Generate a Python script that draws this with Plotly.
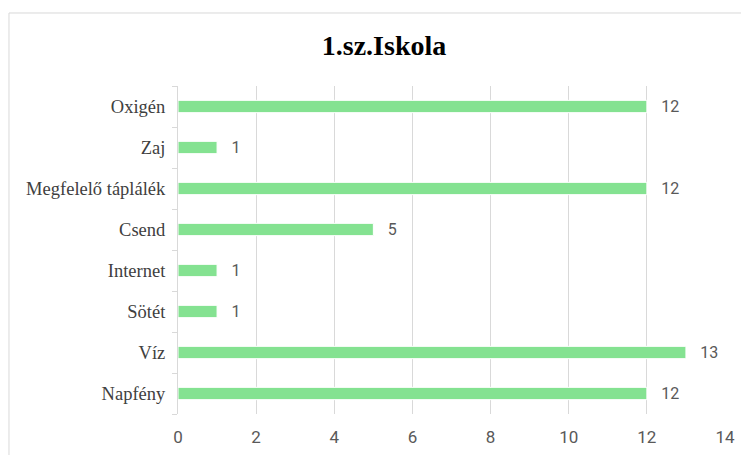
import plotly.graph_objects as go

# bottom-to-top order, as drawn on the chart
categories = ["Napfény", "Víz", "Sötét", "Internet", "Csend",
              "Megfelelő táplálék", "Zaj", "Oxigén"]
values = [12, 13, 1, 1, 5, 12, 1, 12]
x_ticks = [0, 2, 4, 6, 8, 10, 12, 14]

BAR_COLOR = "#84E291"
GRID = "#D9D9D9"
TEXT_GRAY = "#595959"
SERIF = "Liberation Serif, Times New Roman, serif"
NARROW = "Liberation Sans Narrow, Arial Narrow, Roboto, sans-serif"

# the page body has an 8px margin, so the figure is sized/offset to fit
fig = go.Figure(go.Bar(
    x=values,
    y=categories,
    orientation="h",
    width=0.3,
    marker=dict(color=BAR_COLOR, line=dict(color="white", width=1)),
    text=values,
    texttemplate="\u2002\u2009%{x}",
    textposition="outside",
    constraintext="none",
    textfont=dict(family=NARROW, size=16, color=TEXT_GRAY),
    cliponaxis=False,
))

fig.update_layout(
    width=741,
    height=447,
    margin=dict(l=170, r=24, t=78, b=41),
    paper_bgcolor="white",
    plot_bgcolor="white",
    showlegend=False,
    title=dict(
        text="<b>1.sz.Iskola</b>",
        x=376 / 741, xanchor="center",
        y=1 - 37 / 447, yanchor="middle",
        font=dict(family=SERIF, size=28, color="black"),
    ),
    xaxis=dict(
        range=[0, 14],
        tickvals=x_ticks,
        showgrid=True,
        gridcolor=GRID,
        gridwidth=1,
        zeroline=False,
        showline=False,
        ticks="",
        automargin=False,
        ticklabelstandoff=11,
        tickfont=dict(family=NARROW, size=17, color=TEXT_GRAY),
    ),
    yaxis=dict(
        categoryorder="array",
        categoryarray=categories,
        showgrid=False,
        showline=True,
        linecolor=GRID,
        linewidth=1,
        ticks="outside",
        tickson="boundaries",
        ticklen=5,
        tickcolor=GRID,
        automargin=False,
        ticklabelstandoff=8,
        tickfont=dict(family=SERIF, size=18.5, color="#404040"),
    ),
    shapes=[dict(
        type="rect", xref="paper", yref="paper",
        x0=-0.3090, x1=1.06, y0=-0.16, y1=1.2226,
        line=dict(color=GRID, width=1),
        fillcolor="rgba(0,0,0,0)",
        layer="below",
    )],
)

fig.write_html("out.html")
